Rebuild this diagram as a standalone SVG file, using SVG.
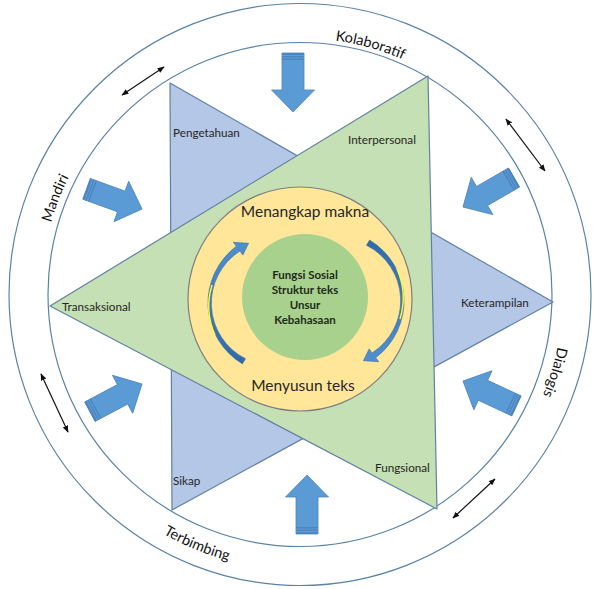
<svg xmlns="http://www.w3.org/2000/svg" xmlns:xlink="http://www.w3.org/1999/xlink" width="600" height="589" viewBox="0 0 600 589">
<style>
.ring{fill:none;stroke:#5a82a8;stroke-width:1.2}
.tri{stroke:#5f80a3;stroke-width:1.2;stroke-linejoin:round}
.lbl{font-family:Lato,"Liberation Sans",sans-serif;font-size:11.7px;fill:#262626}
.rtx{font-family:Lato,"Liberation Sans",sans-serif;font-size:14.5px;fill:#111}
.mid{font-family:Lato,"Liberation Sans",sans-serif;font-size:15.5px;fill:#262626;text-anchor:middle}
.ctr{font-family:Lato,"Liberation Sans",sans-serif;font-size:11.5px;font-weight:bold;fill:#1e2a1a;text-anchor:middle}
.dbl{stroke:#111;stroke-width:1.2;marker-start:url(#ah);marker-end:url(#ah)}
.carrow{fill:url(#cg);stroke:#3a6ea5;stroke-width:0.6}
.hl{fill:none;stroke:#ffff30;stroke-width:1.4}
</style>
<defs>
<marker id="ah" viewBox="0 0 10 10" refX="9" refY="5" markerWidth="7" markerHeight="7" orient="auto-start-reverse" markerUnits="userSpaceOnUse">
<path d="M0,1 L10,5 L0,9 Z" fill="#111"/>
</marker>
<linearGradient id="cg" x1="0" y1="0" x2="0" y2="1">
<stop offset="0" stop-color="#4f8fd0"/>
<stop offset="1" stop-color="#2f6aa8"/>
</linearGradient>
<g id="blk">
<polygon points="-59,-11 -22,-11 -22,-21.5 0,0 -22,21.5 -22,11 -59,11" fill="#5b9bd5" stroke="#4a84bd" stroke-width="0.8"/>
<rect x="-59" y="-11" width="7" height="22" fill="#4a86c2"/>
<line x1="-56.5" y1="-11" x2="-56.5" y2="11" stroke="#7fb2e0" stroke-width="0.5"/>
<line x1="-54" y1="-11" x2="-54" y2="11" stroke="#7fb2e0" stroke-width="0.5"/>
</g>
<path id="pKol" d="M195.1,60.5 A256,256 0 0 1 511.7,150.1"/>
<path id="pMan" d="M54.5,376.6 A259,259 0 0 1 176.0,66.6"/>
<path id="pDia" d="M542.3,191.7 A263,263 0 0 1 442.9,514.8"/>
<path id="pTer" d="M55.4,421.9 A276,276 0 0 0 383.5,557.1"/>
<path id="carr" d="M242.4,363.9 A71,71 0 0 1 236.3,246.3 L233.3,242.3 L248.6,243.3 L242.9,255.1 L239.9,251.1 A62,62 0 0 0 245.5,358.7 Z"/>
</defs>
<rect width="600" height="589" fill="#fff"/>
<g id="outer-ring">
<circle class="ring" cx="300" cy="294.5" r="291"/>
<circle class="ring" cx="300" cy="294.5" r="252"/>
<text class="rtx"><textPath href="#pKol" startOffset="50%" text-anchor="middle">Kolaboratif</textPath></text>
<text class="rtx"><textPath href="#pMan" startOffset="50%" text-anchor="middle">Mandiri</textPath></text>
<text class="rtx"><textPath href="#pDia" startOffset="50%" text-anchor="middle">Dialogis</textPath></text>
<text class="rtx"><textPath href="#pTer" startOffset="50%" text-anchor="middle">Terbimbing</textPath></text>
</g>
<g id="blue-triangle">
<polygon class="tri" points="170,83 553,302 172,510" fill="#b4c7e7"/>
</g>
<g id="green-triangle">
<polygon class="tri" points="50,306 428,76 437,509" fill="#c5e0b4"/>
</g>
<g id="labels">
<text class="lbl" x="173" y="137">Pengetahuan</text>
<text class="lbl" x="348" y="144">Interpersonal</text>
<text class="lbl" x="62" y="311">Transaksional</text>
<text class="lbl" x="461" y="307">Keterampilan</text>
<text class="lbl" x="173" y="485">Sikap</text>
<text class="lbl" x="375" y="472">Fungsional</text>
</g>
<g id="process-circle">
<circle cx="300" cy="299" r="112" fill="#ffe699" stroke="#7f7f7f" stroke-width="1.2"/>
<text class="mid" x="305" y="217">Menangkap makna</text>
<text class="mid" x="303" y="391">Menyusun teks</text>
<use href="#carr" class="carrow"/>
<use href="#carr" class="carrow" transform="rotate(180 306 302)"/>
<path class="hl" d="M215,335 A71.5,71.5 0 0 1 212,285"/>
<path class="hl" d="M397,269 A71.5,71.5 0 0 1 400,319"/>
</g>
<g id="core">
<circle cx="305" cy="297" r="63" fill="#a9d18e"/>
<text class="ctr" x="305" y="279">Fungsi Sosial</text>
<text class="ctr" x="305" y="294">Struktur teks</text>
<text class="ctr" x="305" y="309">Unsur</text>
<text class="ctr" x="305" y="324">Kebahasaan</text>
</g>
<g id="block-arrows">
<use href="#blk" transform="translate(293,112) rotate(90)"/>
<use href="#blk" transform="translate(307,475) rotate(-90)"/>
<use href="#blk" transform="translate(142,209) rotate(20)"/>
<use href="#blk" transform="translate(142,384) rotate(-28)"/>
<use href="#blk" transform="translate(463,207) rotate(150)"/>
<use href="#blk" transform="translate(463,381) rotate(205)"/>
</g>
<g id="connectors">
<line class="dbl" x1="122" y1="95" x2="164" y2="67"/>
<line class="dbl" x1="506" y1="119" x2="545" y2="171"/>
<line class="dbl" x1="41" y1="374" x2="68" y2="432"/>
<line class="dbl" x1="453" y1="518" x2="495" y2="479"/>
</g>
</svg>
